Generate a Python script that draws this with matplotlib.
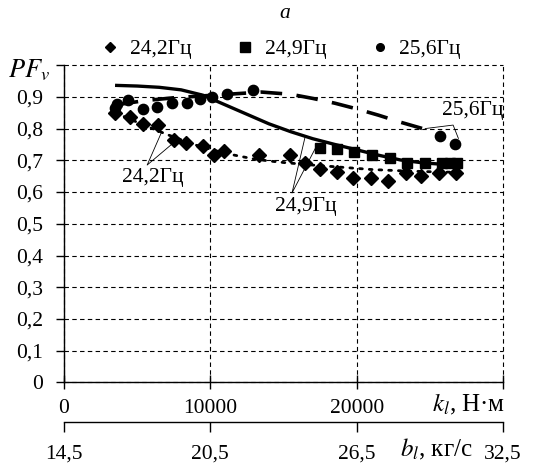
import matplotlib
matplotlib.use("Agg")
import matplotlib.pyplot as plt
from matplotlib.lines import Line2D

plt.rcParams["font.family"] = ["Liberation Serif", "DejaVu Serif"]
plt.rcParams["mathtext.fontset"] = "stix"

# measured points, 24.2 Hz (diamonds)
k_242 = [3500, 4500, 5400, 6400, 7500, 8350, 9500, 10250, 10900, 13300, 15450,
         16450, 17500, 18650, 19750, 20950, 22150, 23400, 24400, 25600, 26800]
pf_242 = [0.848, 0.837, 0.813, 0.811, 0.763, 0.753, 0.745, 0.716, 0.729, 0.716, 0.716,
          0.690, 0.674, 0.663, 0.645, 0.643, 0.636, 0.660, 0.650, 0.659, 0.660]

# measured points, 24.9 Hz (squares)
k_249 = [17500, 18650, 19850, 21050, 22250, 23450, 24650, 25850, 26400, 26850]
pf_249 = [0.740, 0.735, 0.726, 0.718, 0.708, 0.693, 0.693, 0.690, 0.690, 0.690]

# measured points, 25.6 Hz (circles)
k_256 = [3500, 3650, 4400, 5400, 6350, 7400, 8400, 9300, 10100, 11150, 12900, 25700, 26750]
pf_256 = [0.865, 0.878, 0.891, 0.862, 0.868, 0.879, 0.881, 0.893, 0.900, 0.908, 0.921, 0.777, 0.751]

# calculated curves
kc_242 = [3500, 5000, 7000, 9000, 10000, 11000, 12000, 13000, 14000, 15000,
          17000, 19000, 21000, 23000, 25000, 27000]
pfc_242 = [0.850, 0.820, 0.782, 0.748, 0.735, 0.722, 0.713, 0.704, 0.698, 0.693,
           0.685, 0.678, 0.671, 0.667, 0.664, 0.662]

kc_249 = [3600, 5000, 6500, 8000, 9500, 11000, 12500, 14000, 15500, 17000,
          18500, 20000, 21500, 23000, 24500, 26000, 27000]
pfc_249 = [0.936, 0.934, 0.930, 0.922, 0.905, 0.875, 0.845, 0.815, 0.790, 0.768,
           0.750, 0.733, 0.716, 0.701, 0.692, 0.687, 0.686]

kc_256 = [3600, 5500, 7500, 9500, 11500, 13500, 15500, 17000, 18500, 20000,
          21500, 23000, 24500, 25000]
pfc_256 = [0.875, 0.888, 0.897, 0.903, 0.909, 0.915, 0.908, 0.895, 0.880, 0.862,
           0.842, 0.820, 0.800, 0.794]

series_labels = ["24,2Гц", "24,9Гц", "25,6Гц"]

yticks = [0, 0.1, 0.2, 0.3, 0.4, 0.5, 0.6, 0.7, 0.8, 0.9, 1.0]
ytick_labels = ["0", "0,1", "0,2", "0,3", "0,4", "0,5", "0,6", "0,7", "0,8", "0,9", ""]
xticks = [0, 10000, 20000, 30000]
xtick_labels = ["0", "10000", "20000", ""]
b_ticks = [14.5, 20.5, 26.5, 32.5]
b_tick_labels = ["14,5", "20,5", "26,5", "32,5"]

fs = 15.5
fig = plt.figure(figsize=(5.34, 4.72), dpi=100)
ax = fig.add_axes([0.1199, 0.1897, 0.8221, 0.6724])

ax.set_xlim(0, 30000)
ax.set_ylim(0, 1.0)

# grid
ax.set_yticks(yticks)
ax.set_yticklabels(ytick_labels, fontsize=fs)
ax.set_xticks(xticks)
ax.set_xticklabels(xtick_labels, fontsize=fs)
ax.grid(True, color="black", linestyle=(0, (4, 3)), linewidth=0.8)
for s in ("top", "right"):
    ax.spines[s].set_visible(False)
for s in ("left", "bottom"):
    ax.spines[s].set_linewidth(1.0)
ax.tick_params(axis="y", direction="out", length=6, width=1.0, pad=9)
ax.tick_params(axis="x", direction="inout", length=10, width=1.0, pad=7)
for gl in ax.get_xgridlines() + ax.get_ygridlines():
    gl.set_clip_on(False)

# curves
ax.plot(kc_242, pfc_242, color="black", linestyle=(0, (1, 2.5)), linewidth=2.0,
        dash_capstyle="round")
ax.plot(kc_249, pfc_249, color="black", linestyle="-", linewidth=2.4)
ax.plot(kc_256, pfc_256, color="black", linestyle=(0, (6, 4)), linewidth=2.6)

# points
ax.plot(k_242, pf_242, "D", color="black", markersize=6.8, linestyle="none")
ax.plot(k_249, pf_249, "s", color="black", markersize=7.2, linestyle="none")
ax.plot(k_256, pf_256, "o", color="black", markersize=7.4, linestyle="none")

# leader labels
lw_lead = 0.6
ax.text(6050, 0.646, series_labels[0], fontsize=fs, ha="center", va="center")
ax.plot([6650, 5680, 7400], [0.787, 0.685, 0.752], color="black", linewidth=lw_lead)
ax.text(16540, 0.556, series_labels[1], fontsize=fs, ha="center", va="center")
ax.plot([16470, 15580, 17290], [0.773, 0.597, 0.748], color="black", linewidth=lw_lead)
ax.text(27960, 0.858, series_labels[2], fontsize=fs, ha="center", va="center")
ax.plot([24680, 26590, 26950], [0.800, 0.811, 0.769], color="black", linewidth=lw_lead)

# axis titles
ax.text(1.005, -0.068, "$k_l$, Н·м", transform=ax.transAxes, fontsize=18,
        ha="right", va="center")
fig.text(8 / 534, 1 - 70 / 472, "$PF_v$", fontsize=19, ha="left", va="center")

# second scale under the k axis
sec = ax.secondary_xaxis(-0.125, functions=(lambda k: 14.5 + k * 6e-4,
                                            lambda b: (b - 14.5) / 6e-4))
sec.set_xticks(b_ticks)
sec.set_xticklabels(b_tick_labels, fontsize=fs)
sec.tick_params(direction="out", length=7, width=1.0, pad=9)
sec.spines["bottom"].set_linewidth(1.0)
ax.text(0.932, -0.21, "$b_l$, кг/с", transform=ax.transAxes, fontsize=18,
        ha="right", va="center")

# legend
handles = [Line2D([], [], marker=m, color="black", linestyle="none", markersize=ms)
           for m, ms in (("D", 5.5), ("s", 7), ("o", 5.5))]
fig.legend(handles, series_labels, loc="center", bbox_to_anchor=(0.525, 1 - 49 / 472),
           ncol=3, frameon=False, fontsize=fs, handletextpad=0.4, columnspacing=2.0,
           handlelength=1.0)

fig.text(285 / 534, 1 - 14 / 472, "а", fontsize=fs, style="italic",
         ha="center", va="center")

fig.savefig("out.png", dpi=100)
